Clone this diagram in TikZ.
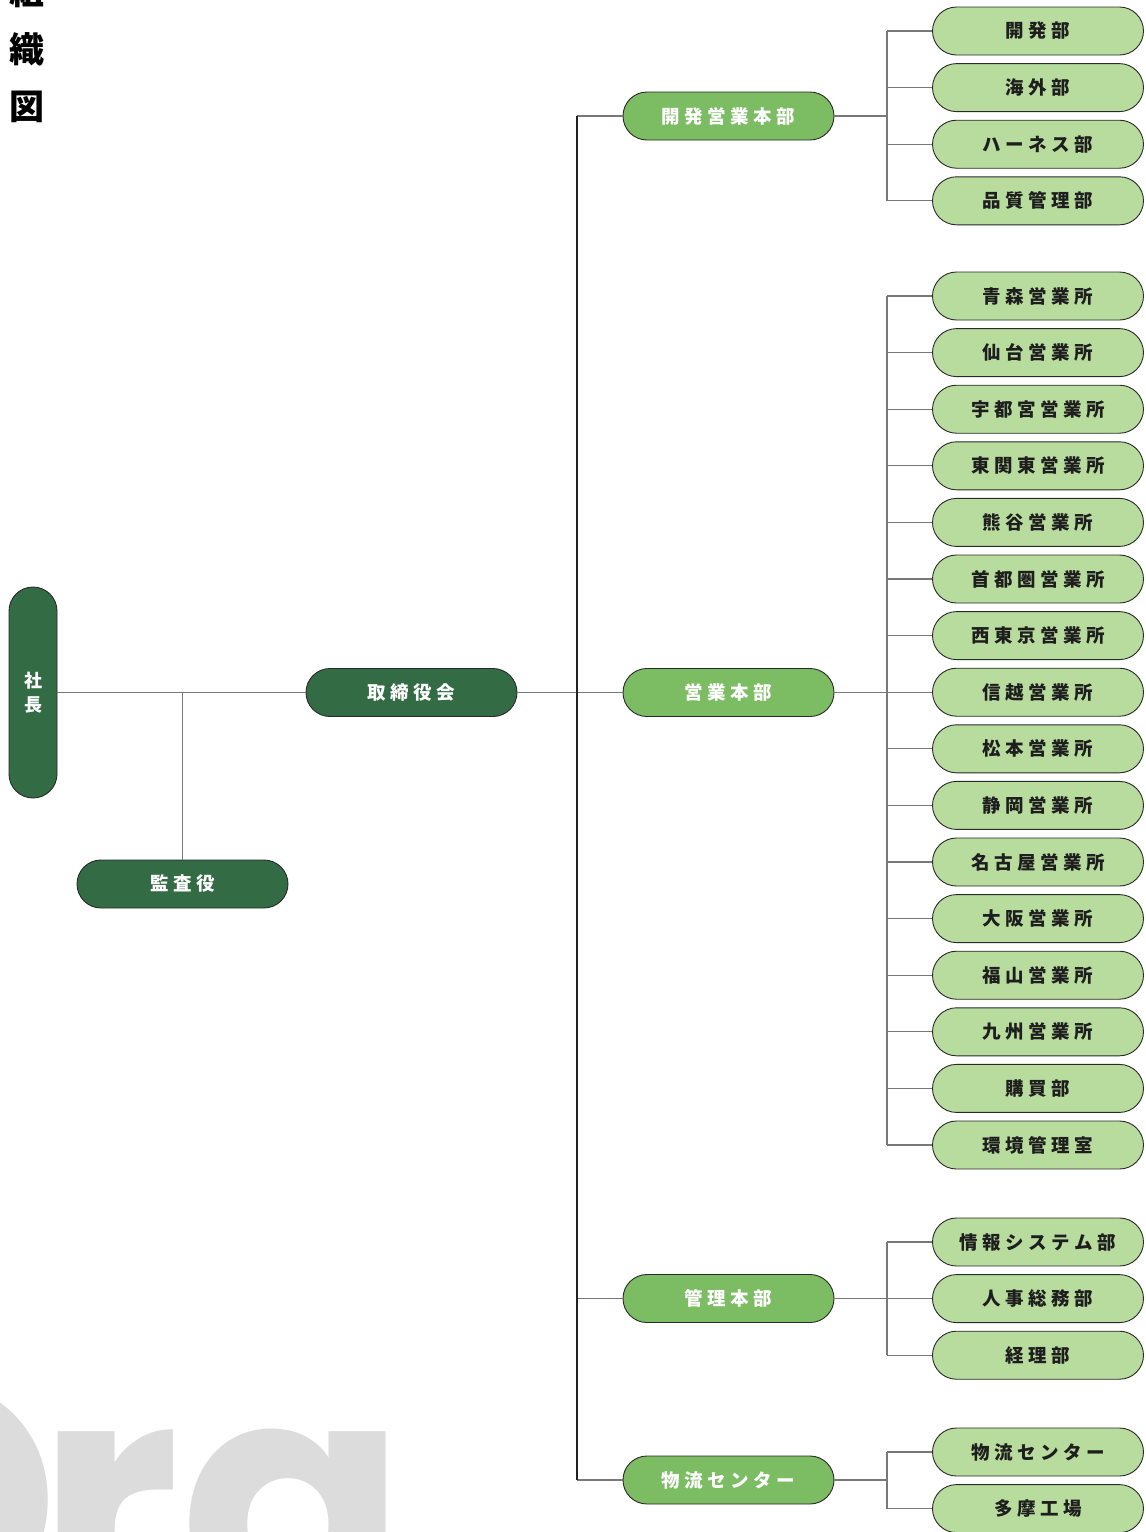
\documentclass[tikz,border=0pt]{standalone}
\usepackage{fontspec}
\newfontfamily\jp{Noto Sans CJK JP}
\newfontfamily\pop{Poppins}
\definecolor{dkgreen}{RGB}{51,107,68}
\definecolor{mdgreen}{RGB}{124,188,99}
\definecolor{ltgreen}{RGB}{184,219,158}
\definecolor{bordc}{RGB}{42,42,42}
\definecolor{lnc}{RGB}{120,120,120}
\definecolor{trunkc}{RGB}{34,34,34}
\definecolor{orgc}{RGB}{220,220,220}
\definecolor{txtc}{RGB}{30,30,30}
\def\lsk{4.5pt}
\newcommand\ls[1]{\lsA#1\relax}
\def\lsA#1{#1\lsB}
\def\lsB#1{\ifx\relax#1\else\kern\lsk#1\expandafter\lsB\fi}
\tikzset{
  basebox/.style={rectangle, rounded corners=24pt, minimum width=211pt, minimum height=48pt,
    draw=bordc, line width=0.9pt, inner sep=0pt,
    font=\jp\bfseries\fontsize{18.5}{18.5}\selectfont},
  topbox/.style={basebox, fill=dkgreen, text=white},
  midbox/.style={basebox, fill=mdgreen, text=white},
  leafbox/.style={basebox, fill=ltgreen, text=txtc},
  ceobox/.style={topbox, minimum width=48pt, minimum height=211pt, align=center,
    font=\jp\bfseries\fontsize{18}{23.5}\selectfont},
  link/.style={draw=lnc, line width=1.2pt},
  trunk/.style={draw=trunkc, line width=1.1pt},
  titlech/.style={font=\jp\bfseries\fontsize{35}{35}\selectfont, text=black, inner sep=0pt},
}
\begin{document}
\begin{tikzpicture}[x=1pt,y=-1pt]
\useasboundingbox (0,0) rectangle (1146,1532);
\fill[white] (0,0) rectangle (1146,1532);
% big background word
\begin{scope}
\clip (0,0) rectangle (1146,1532);
\node[anchor=base west, inner sep=0pt, text=orgc, font=\pop\bfseries\fontsize{333}{333}\selectfont] (org) at (-203,1617) {O\kern-21pt rg};
\end{scope}
% title
\node[titlech] (t1) at (27,-9) {組};
\node[titlech] (t2) at (27,49) {織};
\node[titlech] (t3) at (27,107) {図};
% top level
\node[ceobox] (ceo) at (33,692.5) {社\\長};
\node[topbox] (board) at (411.5,692.5) {\ls{取締役会}};
\node[topbox] (audit) at (182.5,884) {\ls{監査役}};
% mid level
\node[midbox] (m1) at (728.5,116) {\ls{開発営業本部}};
\node[midbox] (m2) at (728.5,692.5) {\ls{営業本部}};
\node[midbox] (m3) at (728.5,1298.5) {\ls{管理本部}};
\node[midbox] (m4) at (728.5,1480) {\ls{物流センター}};
% leaves group 1
\node[leafbox] (a1) at (1038,31) {\ls{開発部}};
\node[leafbox] (a2) at (1038,87.6) {\ls{海外部}};
\node[leafbox] (a3) at (1038,144.2) {\ls{ハーネス部}};
\node[leafbox] (a4) at (1038,200.8) {\ls{品質管理部}};
% leaves group 2
\node[leafbox] (b1) at (1038,296) {\ls{青森営業所}};
\node[leafbox] (b2) at (1038,352.6) {\ls{仙台営業所}};
\node[leafbox] (b3) at (1038,409.2) {\ls{宇都宮営業所}};
\node[leafbox] (b4) at (1038,465.8) {\ls{東関東営業所}};
\node[leafbox] (b5) at (1038,522.4) {\ls{熊谷営業所}};
\node[leafbox] (b6) at (1038,579) {\ls{首都圏営業所}};
\node[leafbox] (b7) at (1038,635.6) {\ls{西東京営業所}};
\node[leafbox] (b8) at (1038,692.2) {\ls{信越営業所}};
\node[leafbox] (b9) at (1038,748.8) {\ls{松本営業所}};
\node[leafbox] (b10) at (1038,805.4) {\ls{静岡営業所}};
\node[leafbox] (b11) at (1038,862) {\ls{名古屋営業所}};
\node[leafbox] (b12) at (1038,918.6) {\ls{大阪営業所}};
\node[leafbox] (b13) at (1038,975.2) {\ls{福山営業所}};
\node[leafbox] (b14) at (1038,1031.8) {\ls{九州営業所}};
\node[leafbox] (b15) at (1038,1088.4) {\ls{購買部}};
\node[leafbox] (b16) at (1038,1145) {\ls{環境管理室}};
% leaves group 3
\node[leafbox] (c1) at (1038,1242) {\ls{情報システム部}};
\node[leafbox] (c2) at (1038,1298.6) {\ls{人事総務部}};
\node[leafbox] (c3) at (1038,1355.2) {\ls{経理部}};
% leaves group 4
\node[leafbox] (d1) at (1038,1452) {\ls{物流センター}};
\node[leafbox] (d2) at (1038,1508.6) {\ls{多摩工場}};
% connectors top
\draw[link] (ceo.east |- board.west) -- (board.west);
\draw[link] (audit.north) -- (audit.north |- board.west);
\coordinate (tr) at (577,692.5);
\draw[link] (board.east) -- (m2.west);
\draw[link] (m1.west -| tr) -- (m1.west);
\draw[link] (m3.west -| tr) -- (m3.west);
\draw[link] (m4.west -| tr) -- (m4.west);
\draw[trunk] (m1.west -| tr) -- (m4.west -| tr);
% branches
\coordinate (br) at (887,0);
\draw[link] (m1.east) -- (m1.east -| br);
\draw[link] (a1.west -| br) -- (a4.west -| br);
\foreach \n in {a1,a2,a3,a4} \draw[link] (\n.west -| br) -- (\n.west);
\draw[link] (m2.east) -- (m2.east -| br);
\draw[link] (b1.west -| br) -- (b16.west -| br);
\foreach \n in {b1,b2,b3,b4,b5,b6,b7,b8,b9,b10,b11,b12,b13,b14,b15,b16} \draw[link] (\n.west -| br) -- (\n.west);
\draw[link] (m3.east) -- (m3.east -| br);
\draw[link] (c1.west -| br) -- (c3.west -| br);
\foreach \n in {c1,c2,c3} \draw[link] (\n.west -| br) -- (\n.west);
\draw[link] (m4.east) -- (m4.east -| br);
\draw[link] (d1.west -| br) -- (d2.west -| br);
\foreach \n in {d1,d2} \draw[link] (\n.west -| br) -- (\n.west);
\end{tikzpicture}
\end{document}
